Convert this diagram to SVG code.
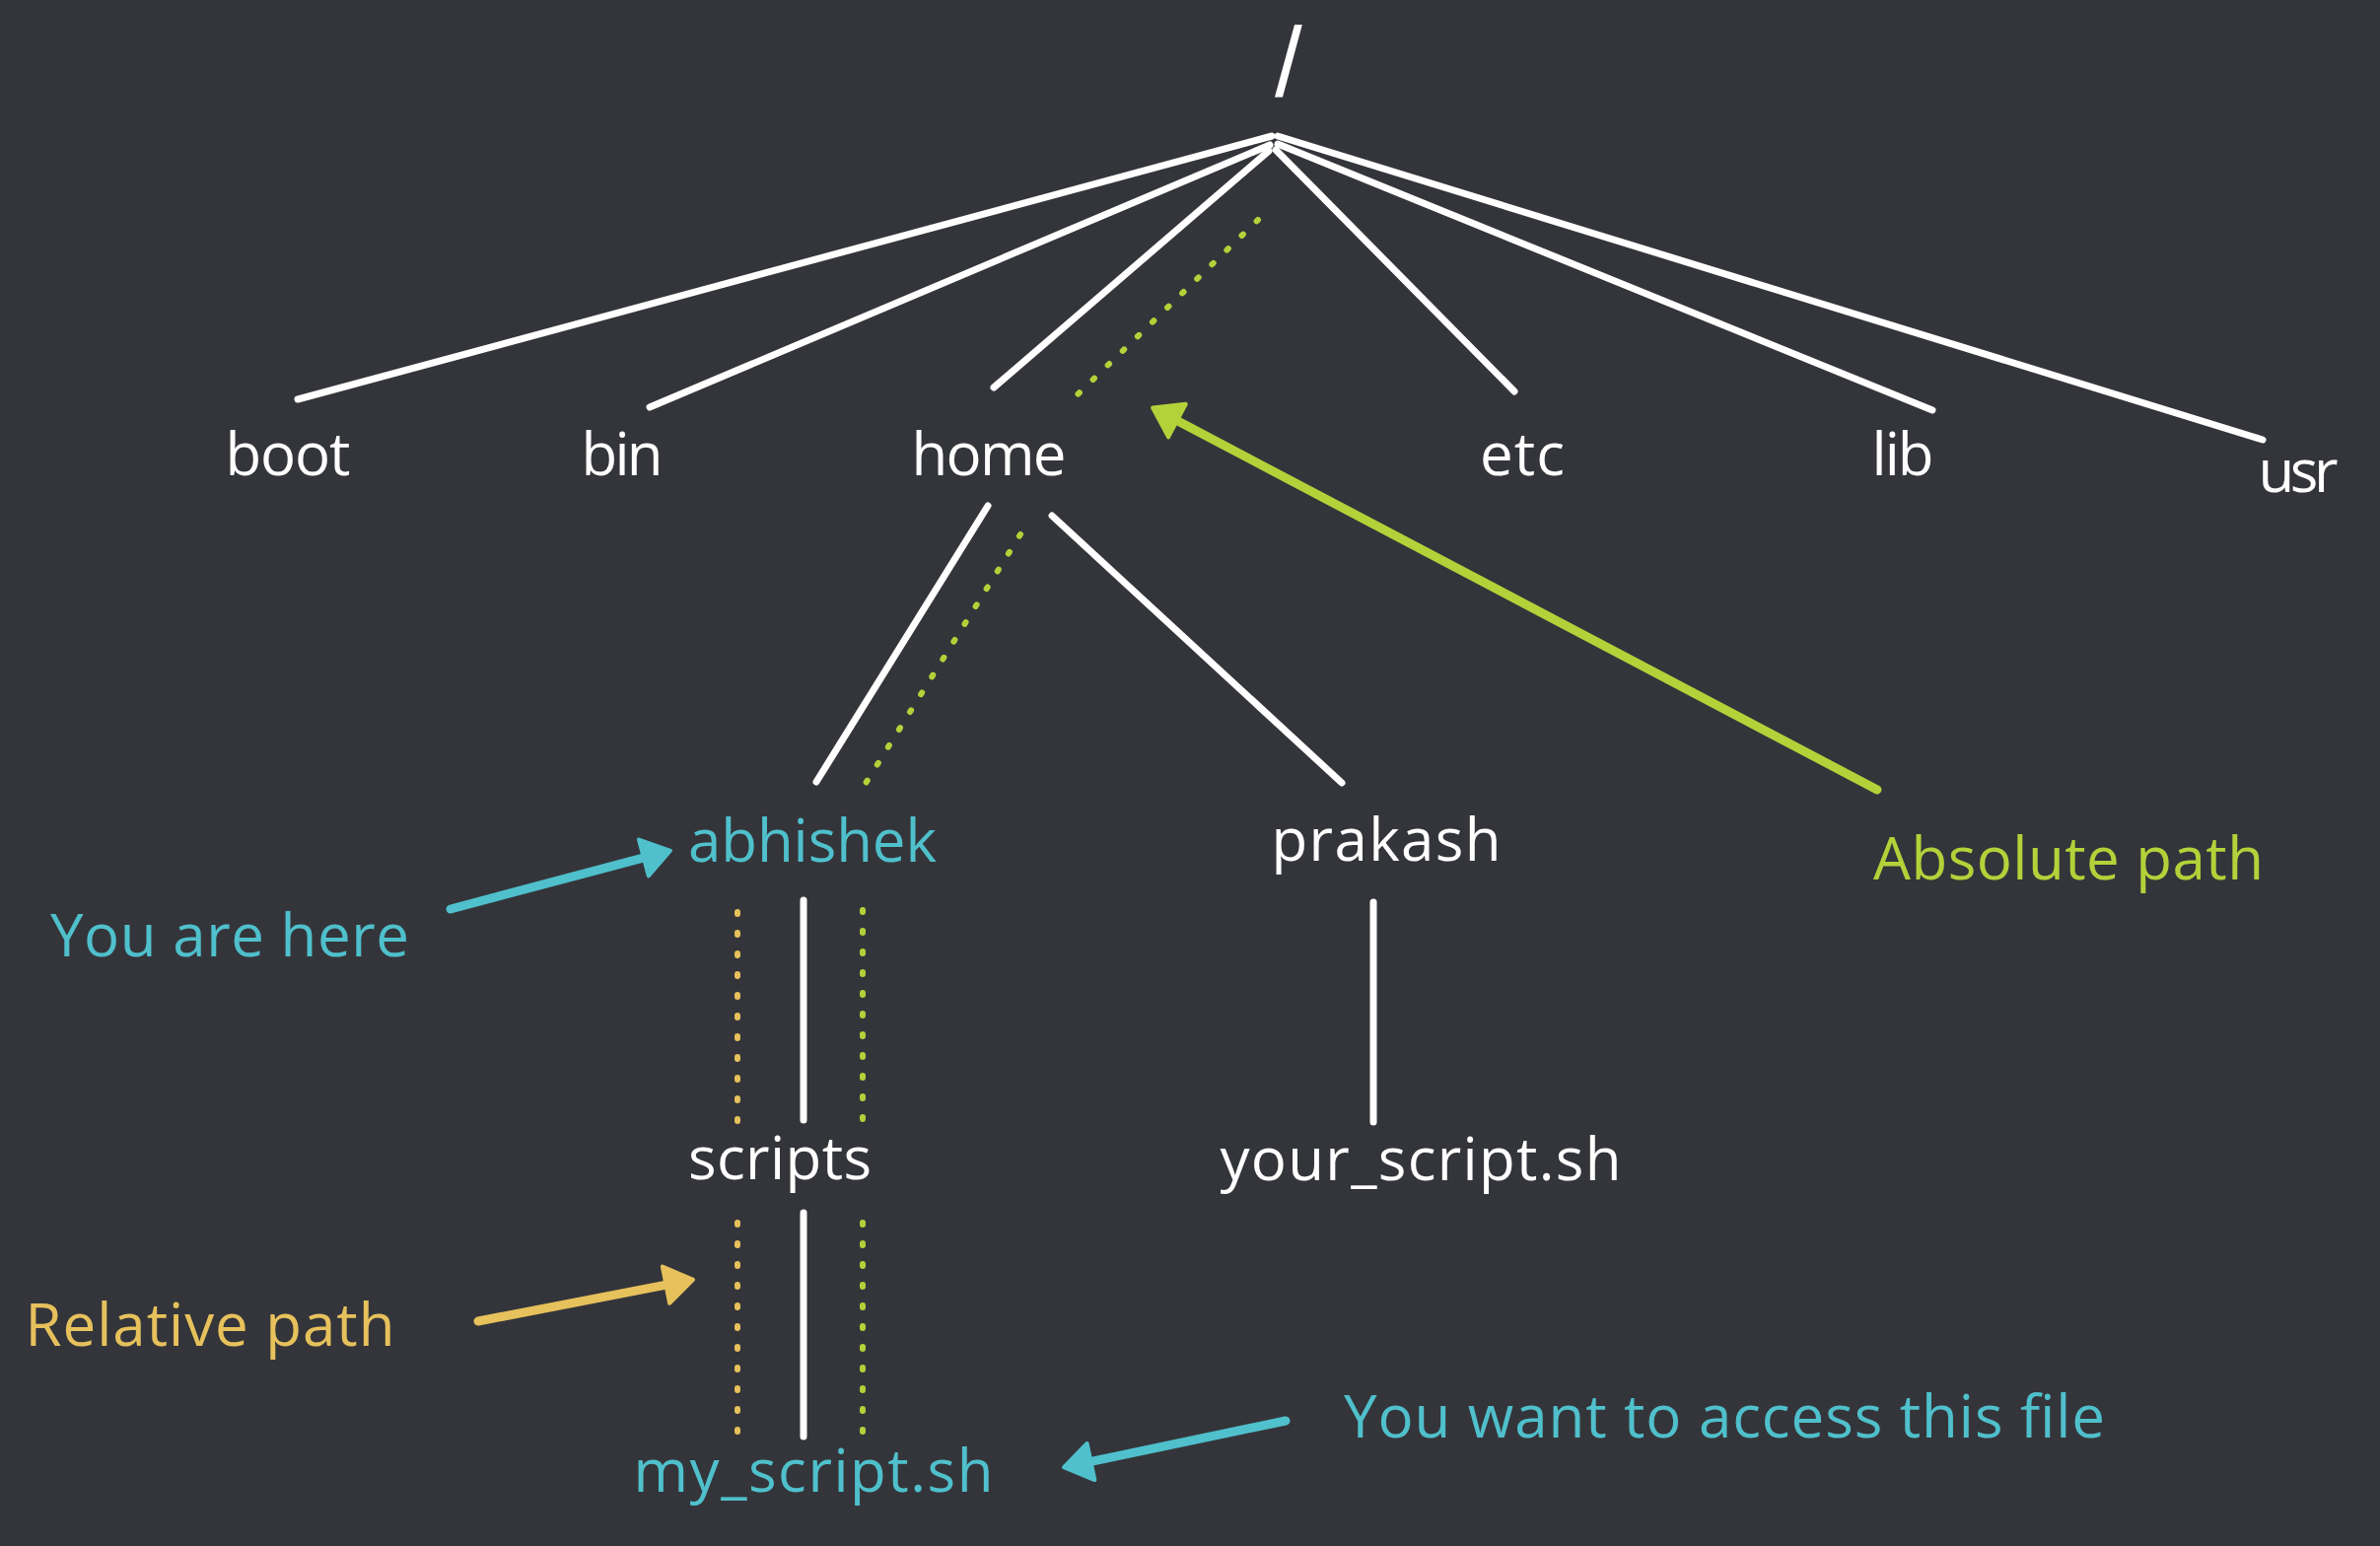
<svg xmlns="http://www.w3.org/2000/svg" width="2414" height="1568" viewBox="0 0 2414 1568">
  <style>
    .bg { fill: #34353a; }
    .t { font-family: "Open Sans", "Noto Sans", sans-serif; font-size: 60px; text-anchor: middle; }
    .w { fill: #ffffff; }
    .cy { fill: #4fc0cc; }
    .gr { fill: #b3d23a; }
    .yl { fill: #e6c15c; }
    .edge { stroke: #ffffff; stroke-width: 7; stroke-linecap: round; fill: none; }
    .dotg { stroke: #b3d23a; stroke-width: 6; stroke-linecap: round; stroke-dasharray: 2 19; fill: none; }
    .doty { stroke: #e6c15c; stroke-width: 6; stroke-linecap: round; stroke-dasharray: 2 19; fill: none; }
    .arr { stroke-width: 9; stroke-linecap: round; fill: none; }
  </style>
  <defs>
    <marker id="ahC" markerUnits="userSpaceOnUse" viewBox="-20 -26 42 52" refX="0" refY="0" markerWidth="42" markerHeight="52" orient="auto">
      <path d="M16,0 L-12,-19 L-12,19 Z" fill="#4fc0cc" stroke="#4fc0cc" stroke-width="4" stroke-linejoin="round"/>
    </marker>
    <marker id="ahY" markerUnits="userSpaceOnUse" viewBox="-20 -26 42 52" refX="0" refY="0" markerWidth="42" markerHeight="52" orient="auto">
      <path d="M16,0 L-12,-19 L-12,19 Z" fill="#e6c15c" stroke="#e6c15c" stroke-width="4" stroke-linejoin="round"/>
    </marker>
    <marker id="ahG" markerUnits="userSpaceOnUse" viewBox="-20 -26 42 52" refX="0" refY="0" markerWidth="42" markerHeight="52" orient="auto">
      <path d="M16,0 L-12,-19 L-12,19 Z" fill="#b3d23a" stroke="#b3d23a" stroke-width="4" stroke-linejoin="round"/>
    </marker>
  </defs>
  <rect class="bg" x="0" y="0" width="2414" height="1568"/>

  <g id="connectors">
    <line class="edge" x1="1290" y1="138" x2="302" y2="405"/>
    <line class="edge" x1="1288" y1="147" x2="659" y2="413"/>
    <line class="edge" x1="1287" y1="153" x2="1008" y2="393"/>
    <line class="edge" x1="1294" y1="152" x2="1536" y2="397"/>
    <line class="edge" x1="1296" y1="146" x2="1960" y2="416"/>
    <line class="edge" x1="1296" y1="138" x2="2295" y2="446"/>
    <line class="edge" x1="1002" y1="513" x2="828" y2="793"/>
    <line class="edge" x1="1067" y1="523" x2="1361" y2="794"/>
    <line class="edge" x1="815" y1="913" x2="815" y2="1136"/>
    <line class="edge" x1="815" y1="1230" x2="815" y2="1457"/>
    <line class="edge" x1="1393" y1="915" x2="1393" y2="1138"/>
    <line class="dotg" x1="1276" y1="223" x2="1090" y2="403"/>
    <line class="dotg" x1="1035" y1="542" x2="877" y2="796"/>
    <line class="dotg" x1="875" y1="923" x2="875" y2="1139"/>
    <line class="dotg" x1="875" y1="1240" x2="875" y2="1457"/>
    <line class="doty" x1="748" y1="925" x2="748" y2="1139"/>
    <line class="doty" x1="748" y1="1240" x2="748" y2="1457"/>
    <line class="arr" stroke="#4fc0cc" x1="457" y1="922" x2="664.5" y2="866.9" marker-end="url(#ahC)"/>
    <line class="arr" stroke="#e6c15c" x1="485" y1="1340" x2="687.3" y2="1300.9" marker-end="url(#ahY)"/>
    <line class="arr" stroke="#b3d23a" x1="1904" y1="801" x2="1183.3" y2="421" marker-end="url(#ahG)"/>
    <line class="arr" stroke="#4fc0cc" x1="1304" y1="1441" x2="1094.7" y2="1484.9" marker-end="url(#ahC)"/>
  </g>

  <g id="node-root"><text x="1307" y="98" font-family="Liberation Sans, sans-serif" font-size="100" text-anchor="middle" class="w">/</text></g>
  <g id="node-boot"><text class="t w" x="292" y="482" textLength="127">boot</text></g>
  <g id="node-bin"><text class="t w" x="631" y="482" textLength="83">bin</text></g>
  <g id="node-home"><text class="t w" x="1003" y="482" textLength="157">home</text></g>
  <g id="node-etc"><text class="t w" x="1544" y="482" textLength="86">etc</text></g>
  <g id="node-lib"><text class="t w" x="1930" y="482" textLength="63">lib</text></g>
  <g id="node-usr"><text class="t w" x="2331" y="499" textLength="81">usr</text></g>
  <g id="node-abhishek"><text class="t cy" x="824" y="874" textLength="252">abhishek</text></g>
  <g id="node-prakash"><text class="t w" x="1406" y="873" textLength="233">prakash</text></g>
  <g id="node-scripts"><text class="t w" x="791" y="1196" textLength="186">scripts</text></g>
  <g id="node-your-script"><text class="t w" x="1441" y="1197" textLength="407">your_script.sh</text></g>
  <g id="node-my-script"><text class="t cy" x="825" y="1513" textLength="365">my_script.sh</text></g>
  <g id="label-you-are-here"><text class="t cy" x="233" y="970" textLength="364">You are here</text></g>
  <g id="label-relative"><text class="t yl" x="213" y="1365" textLength="375">Relative path</text></g>
  <g id="label-absolute"><text class="t gr" x="2098" y="892" textLength="396">Absolute path</text></g>
  <g id="label-access"><text class="t cy" x="1749" y="1458" textLength="772">You want to access this file</text></g>
</svg>
